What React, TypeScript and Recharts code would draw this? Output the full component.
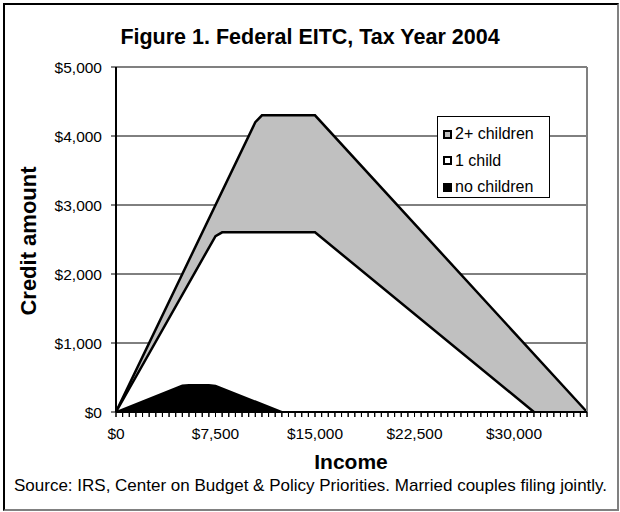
import React from 'react';
import { ComposedChart, Area, XAxis, YAxis, CartesianGrid, ReferenceLine } from 'recharts';

const incomes = [0, 5000, 5500, 7000, 7500, 8000, 10500, 11000, 12500, 15000, 31500, 35500];
const twoPlusChildren = [0, null, null, null, null, null, 4200, 4300, null, 4300, null, 0];
const oneChild = [0, null, null, null, 2550, 2604, null, null, null, 2604, 0, null];
const noChildren = [0, 383, 390, 390, 382, null, null, null, 0, null, null, null];

const yTicks = [0, 1000, 2000, 3000, 4000, 5000];
const gridValues = [1000, 2000, 3000, 4000];
const xMajorTicks = [0, 7500, 15000, 22500, 30000];
const xMinorStep = 500;
const xMax = 35500;

const data = incomes.map((inc, i) => ({
  income: inc,
  two: twoPlusChildren[i],
  one: oneChild[i],
  none: noChildren[i],
}));

const xTicks: number[] = [];
for (let v = 0; v <= xMax; v += xMinorStep) xTicks.push(v);

const FONT = '"Liberation Sans", Arial, sans-serif';
const fmt = (v: number) => '$' + v.toLocaleString('en-US');

const XTick = (props: any) => {
  const { x, y, payload } = props;
  const major = xMajorTicks.includes(payload.value);
  return (
    <g>
      <line x1={x} x2={x} y1={y - 5} y2={y} stroke="#000" strokeWidth={1} />
      {major && (
        <text x={x} y={y + 18} textAnchor="middle" dominantBaseline="middle" fontSize={15.5} fontFamily={FONT} fill="#000">
          {fmt(payload.value)}
        </text>
      )}
    </g>
  );
};

const legendItems = [
  { label: '2+ children', fill: '#C0C0C0' },
  { label: '1 child', fill: '#FFFFFF' },
  { label: 'no children', fill: '#000000' },
];

const LegendBox = () => (
  <div style={{ position: 'absolute', left: 437, top: 116, width: 113, height: 82, border: '1px solid #000', background: '#fff', boxSizing: 'border-box', fontFamily: FONT, fontSize: 16, paddingTop: 4 }}>
    {legendItems.map((it) => (
      <div key={it.label} style={{ display: 'flex', alignItems: 'center', height: 26.5, paddingLeft: 5 }}>
        <span style={{ display: 'inline-block', width: 9, height: 9, boxSizing: 'border-box', border: '2px solid #000', background: it.fill, marginRight: 3 }} />
        <span style={{ color: '#000', lineHeight: '16px' }}>{it.label}</span>
      </div>
    ))}
  </div>
);

export default function App() {
  return (
    <div style={{ position: 'absolute', left: 0, top: 0, width: 620, height: 512, background: '#fff', fontFamily: FONT }}>
      <div style={{ position: 'absolute', left: 3, top: 3, width: 616, height: 508, boxSizing: 'border-box', borderLeft: '2px solid #000', borderTop: '2px solid #000', borderRight: '2px solid #808080', borderBottom: '2px solid #808080' }} />
      <ComposedChart width={620} height={512} data={data} margin={{ top: 67, right: 33, left: 0, bottom: 0 }} style={{ position: 'absolute', left: 0, top: 0 }}>
        <CartesianGrid horizontal vertical={false} horizontalValues={gridValues} stroke="#000" strokeWidth={1} />
        <Area dataKey="two" type="linear" connectNulls fill="#C0C0C0" fillOpacity={1} stroke="#000" strokeWidth={2.5} isAnimationActive={false} dot={false} activeDot={false} />
        <Area dataKey="one" type="linear" connectNulls fill="#FFFFFF" fillOpacity={1} stroke="#000" strokeWidth={2.5} isAnimationActive={false} dot={false} activeDot={false} />
        <Area dataKey="none" type="linear" connectNulls fill="#000000" fillOpacity={1} stroke="#000" strokeWidth={2} isAnimationActive={false} dot={false} activeDot={false} />
        <ReferenceLine y={5000} stroke="#808080" strokeWidth={2} />
        <ReferenceLine x={xMax} stroke="#808080" strokeWidth={2} />
        <XAxis dataKey="income" type="number" domain={[0, xMax]} ticks={xTicks} interval={0} height={100} tick={<XTick />} tickSize={5} tickMargin={0} tickLine={{ stroke: '#000', strokeWidth: 1 }} axisLine={{ stroke: '#000', strokeWidth: 2 }} allowDataOverflow />
        <YAxis type="number" domain={[0, 5000]} ticks={yTicks} width={116} tickFormatter={fmt} tickSize={5} tickMargin={9} tick={{ fontSize: 15.5, fontFamily: FONT, fill: '#000' }} tickLine={{ stroke: '#000', strokeWidth: 1 }} axisLine={{ stroke: '#000', strokeWidth: 2 }} />
      </ComposedChart>
      <LegendBox />
      <svg width={620} height={512} style={{ position: 'absolute', left: 0, top: 0, pointerEvents: 'none' }}>
        <text x={310} y={38} textAnchor="middle" dominantBaseline="middle" fontSize={21.5} fontWeight="bold" fontFamily={FONT} fill="#000">Figure 1. Federal EITC, Tax Year 2004</text>
        <text x={351} y={463} textAnchor="middle" dominantBaseline="middle" fontSize={21} fontWeight="bold" fontFamily={FONT} fill="#000">Income</text>
        <text x={30} y={241} textAnchor="middle" dominantBaseline="middle" fontSize={22} fontWeight="bold" fontFamily={FONT} fill="#000" transform="rotate(-90 30 241)">Credit amount</text>
        <text x={14} y={487} textAnchor="start" dominantBaseline="middle" fontSize={17} fontFamily={FONT} fill="#000">Source: IRS, Center on Budget &amp; Policy Priorities. Married couples filing jointly.</text>
      </svg>
    </div>
  );
}
